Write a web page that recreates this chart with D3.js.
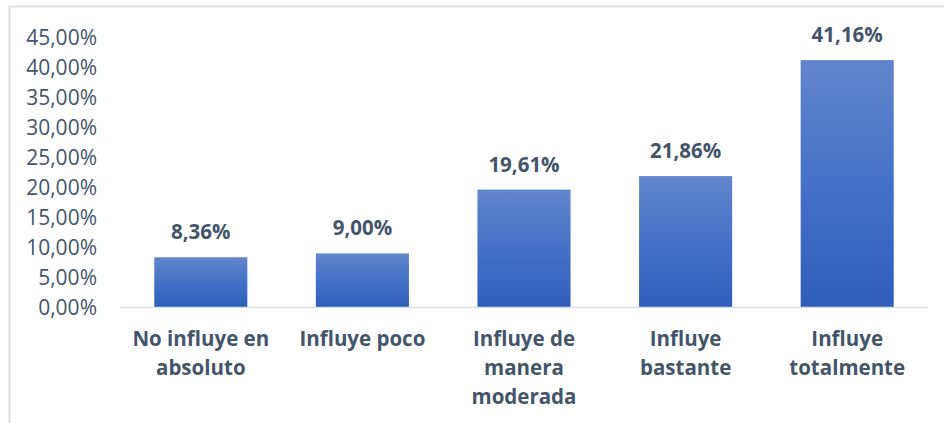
<!DOCTYPE html>
<html>
<head>
<meta charset="utf-8">
<script src="https://cdn.jsdelivr.net/npm/d3@7"></script>
<style>
  body { margin: 0; background: #fff; }
  svg { display: block; font-family: "Open Sans", sans-serif; }
</style>
</head>
<body>
<svg id="chart" width="944" height="423"></svg>
<script>
// chart data
const categories = [
  ["No influye en", "absoluto"],
  ["Influye poco"],
  ["Influye de", "manera", "moderada"],
  ["Influye", "bastante"],
  ["Influye", "totalmente"]
];
const values = [8.36, 9.00, 19.61, 21.86, 41.16];
const tickValues = [0, 5, 10, 15, 20, 25, 30, 35, 40, 45];

const fmt = v => v.toFixed(2).replace(".", ",") + "%";
const textColor = "#44546A";

const svg = d3.select("#chart");

// frame (top and left edges of the chart area)
svg.append("line").attr("x1", 9).attr("x2", 944).attr("y1", 6.5).attr("y2", 6.5)
  .attr("stroke", "#D9DEE4").attr("stroke-width", 2);
svg.append("line").attr("x1", 9.5).attr("x2", 9.5).attr("y1", 6).attr("y2", 423)
  .attr("stroke", "#D9DEE4").attr("stroke-width", 2);

const x = d3.scaleBand().domain(d3.range(values.length)).range([120, 928]).paddingInner(0.424).paddingOuter(0.212);
const y = d3.scaleLinear().domain([0, 45]).range([307.5, 37]);

// gradient for bars
const grad = svg.append("defs").append("linearGradient")
  .attr("id", "barGrad").attr("x1", 0).attr("y1", 0).attr("x2", 0).attr("y2", 1)
  .attr("gradientUnits", "objectBoundingBox");
grad.append("stop").attr("offset", "0%").attr("stop-color", "#6385CB");
grad.append("stop").attr("offset", "50%").attr("stop-color", "#4471C8");
grad.append("stop").attr("offset", "100%").attr("stop-color", "#2E5FBB");

// y axis labels
const yAxis = d3.axisLeft(y).tickValues(tickValues).tickSize(0).tickPadding(0).tickFormat(fmt);
const gy = svg.append("g").attr("transform", "translate(97,0)").call(yAxis);
gy.select(".domain").remove();
gy.selectAll("text").attr("fill", textColor).attr("font-size", 21)
  .attr("font-family", "'Open Sans', sans-serif").attr("dy", "0.35em");

// bars
svg.selectAll("rect.bar").data(values).enter().append("rect")
  .attr("class", "bar")
  .attr("x", (d, i) => x(i))
  .attr("width", x.bandwidth())
  .attr("y", d => y(d))
  .attr("height", d => y(0) - y(d))
  .attr("fill", "url(#barGrad)");

// baseline
svg.append("line").attr("x1", 120).attr("x2", 928).attr("y1", y(0)).attr("y2", y(0))
  .attr("stroke", "#D9DEE4").attr("stroke-width", 1.5);

// value labels
svg.selectAll("text.val").data(values).enter().append("text")
  .attr("class", "val")
  .attr("x", (d, i) => x(i) + x.bandwidth() / 2)
  .attr("y", d => y(d) - 18)
  .attr("text-anchor", "middle")
  .attr("font-size", 20.5).attr("font-weight", "bold")
  .attr("fill", textColor)
  .text(d => fmt(d));

// category labels
const cat = svg.selectAll("text.cat").data(categories).enter().append("text")
  .attr("class", "cat")
  .attr("x", (d, i) => x(i) + x.bandwidth() / 2)
  .attr("y", 346)
  .attr("text-anchor", "middle")
  .attr("font-size", 20.5).attr("font-weight", "bold")
  .attr("fill", textColor);
cat.selectAll("tspan").data((d, i) => d.map(t => ({ t, i }))).enter().append("tspan")
  .attr("x", d => x(d.i) + x.bandwidth() / 2)
  .attr("dy", (d, j) => j === 0 ? 0 : 29)
  .text(d => d.t);
</script>
</body>
</html>
